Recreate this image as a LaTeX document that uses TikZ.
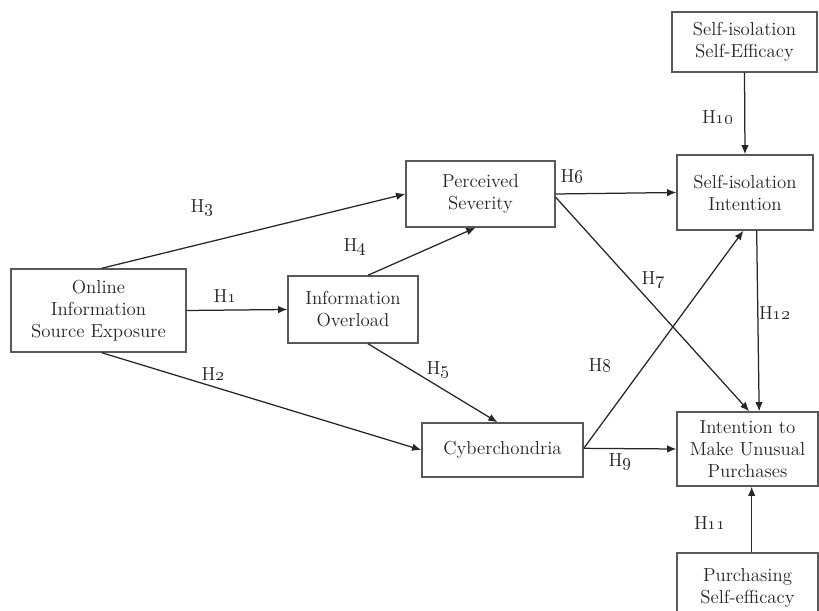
\documentclass[tikz,border=0pt]{standalone}
\usepackage{tikz}
\usetikzlibrary{shapes.geometric, arrows.meta}

\begin{document}
\begin{tikzpicture}[x=0.6pt,y=-0.6pt,
        box/.style={draw=black!65, line width=0.9pt, fill=white, inner sep=0pt,
            align=center, text=black!85, font=\fontsize{11.3}{13.2}\selectfont},
        hyp/.style={text=black!85, inner sep=0pt, font=\fontsize{11.3}{13.2}\selectfont},
        path/.style={-{Latex[length=5.5pt,width=4.5pt]}, line width=0.75pt, draw=black!85}]
        \clip (0,0) rectangle (819,611);
        \fill[white] (0,0) rectangle (819,611);

        \node[box, minimum width=105pt, minimum height=49.8pt] (oise) at (98.5,310.5) {Online\\Information\\Source Exposure};
        \node[box, minimum width=78pt, minimum height=40.2pt] (io) at (353,309.5) {Information\\Overload};
        \node[box, minimum width=89.4pt, minimum height=39.6pt] (ps) at (480.5,194) {Perceived\\Severity};
        \node[box, minimum width=96.6pt, minimum height=32.4pt] (cyber) at (502.5,450) {Cyberchondria};

        \node[box, minimum width=87pt, minimum height=36pt] (sise) at (744.5,42) {Self-isolation\\Self-Efficacy};
        \node[box, minimum width=81.6pt, minimum height=45pt] (sii) at (745,192.5) {Self-isolation\\Intention};
        \node[box, minimum width=84.6pt, minimum height=44.4pt] (imup) at (747.5,449) {Intention to\\Make Unusual\\Purchases};
        \node[box, minimum width=84.6pt, minimum height=42pt] (pse) at (747.5,588) {Purchasing\\Self-efficacy};

        \node[hyp] (h1)  at (225,296) {H\oldstylenums{1}};
        \node[hyp] (h2)  at (213,374) {H\oldstylenums{2}};
        \node[hyp] (h3)  at (202,208) {H\oldstylenums{3}};
        \node[hyp] (h4)  at (355,247) {H\oldstylenums{4}};
        \node[hyp] (h5)  at (438,370) {H\oldstylenums{5}};
        \node[hyp] (h6)  at (572,176) {H\oldstylenums{6}};
        \node[hyp] (h7)  at (653,280) {H\oldstylenums{7}};
        \node[hyp] (h8)  at (600,365) {H\oldstylenums{8}};
        \node[hyp] (h9)  at (620,462) {H\oldstylenums{9}};
        \node[hyp] (h10) at (718,117) {H\oldstylenums{10}};
        \node[hyp] (h11) at (710,523) {H\oldstylenums{11}};
        \node[hyp] (h12) at (775,313) {H\oldstylenums{12}};

        \draw[path] ([xshift=2pt]oise.north) -- (ps.west);
        \draw[path] (oise.east) -- (io.west);
        \draw[path] ([xshift=2pt]oise.south) -- (cyber.west);
        \draw[path] ([xshift=9pt]io.north) -- ([xshift=-3pt]ps.south);
        \draw[path] ([xshift=9pt]io.south) -- ([xshift=-3pt]cyber.north);

        \draw[path] (ps.east) -- (sii.west);
        \draw[path] ([yshift=-2pt]ps.east) -- ([xshift=1pt]imup.north);
        \draw[path] ([yshift=1pt]cyber.east) -- ([xshift=-1pt]sii.south);
        \draw[path] ([yshift=1pt]cyber.east) -- (imup.west);

        \draw[path] (sise.south) -- (sii.north);
        \draw[path] ([xshift=7pt]sii.south) -- ([xshift=7pt]imup.north);
        \draw[path] ([xshift=2.5pt]pse.north) -- ([xshift=2.5pt]imup.south);
    \end{tikzpicture}
\end{document}
